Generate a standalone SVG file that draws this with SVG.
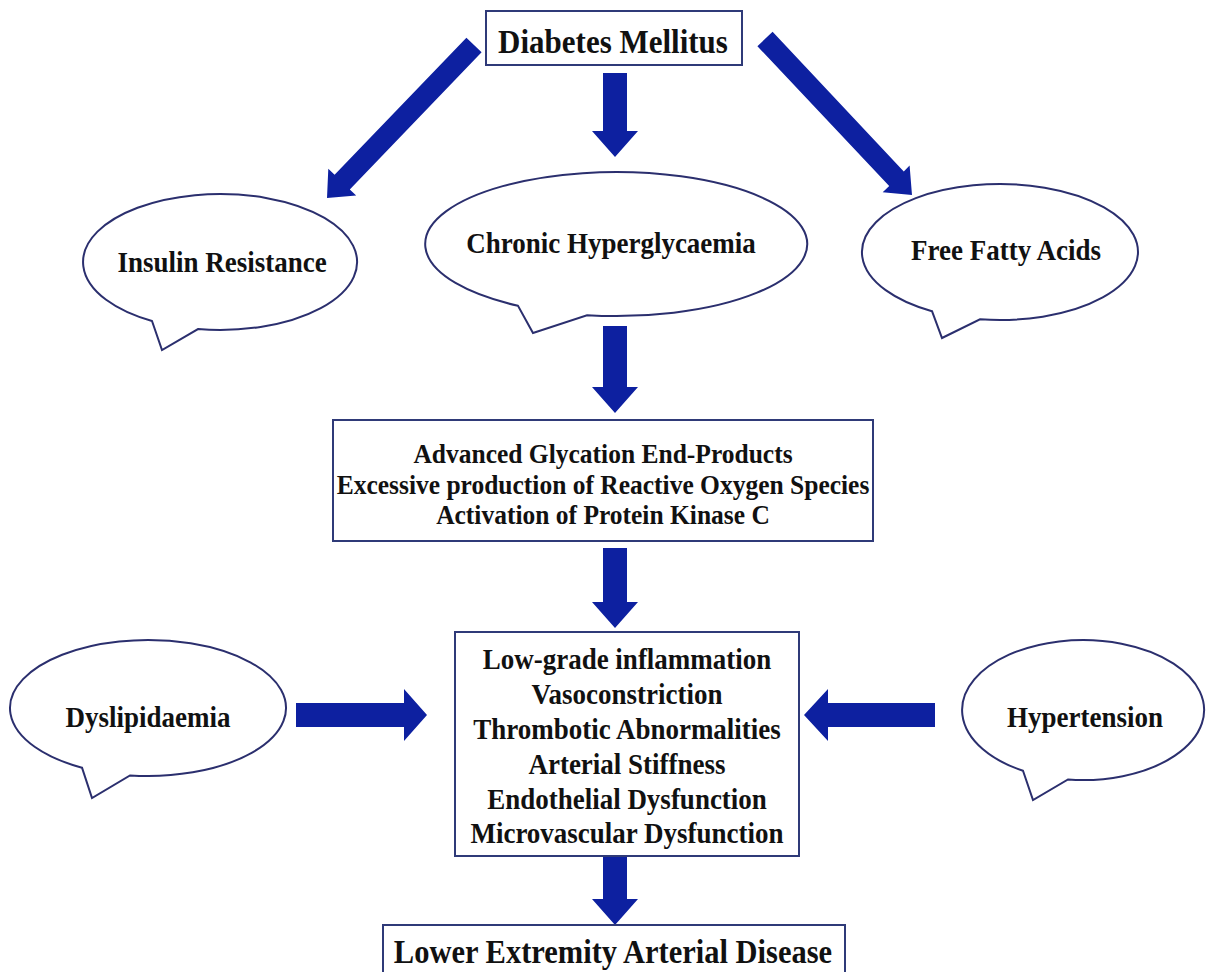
<svg xmlns="http://www.w3.org/2000/svg" width="1206" height="972" viewBox="0 0 1206 972">
  <style>
    .box { fill: #ffffff; stroke: #2f3a78; stroke-width: 2; }
    .bubble { fill: #ffffff; stroke: #2b2f6e; stroke-width: 2; stroke-linejoin: miter; }
    .arrow { fill: #0d20a0; stroke: none; }
    text { font-family: "Liberation Serif", "Times New Roman", serif; font-weight: bold; fill: #111111; text-anchor: middle; }
    .t-main { font-size: 31px; }
    .t-bub { font-size: 27px; }
    .t-age { font-size: 25.5px; }
    .t-box { font-size: 27px; }
    .t-end { font-size: 30.5px; }
  </style>
  <rect width="1206" height="972" fill="#ffffff"/>

  <!-- connectors: block arrows -->
  <g id="connectors">
    <!-- Diabetes Mellitus -> Insulin Resistance -->
    <polygon class="arrow" points="481.6,52.3 349.8,189.4 356.2,195.6 327,198 328.3,168.7 334.6,174.8 466.4,37.7"/>
    <!-- Diabetes Mellitus -> Free Fatty Acids -->
    <polygon class="arrow" points="757.4,46.2 889.2,186.1 882.7,192.3 912,195 909.6,165.6 903.8,171.6 772.6,31.8"/>
    <!-- Diabetes Mellitus -> Chronic Hyperglycaemia -->
    <polygon class="arrow" points="603,73 627,73 627,131 638,131 615,157 592,131 603,131"/>
    <!-- Chronic Hyperglycaemia -> mechanisms -->
    <polygon class="arrow" points="603,326 627,326 627,387 638,387 615,413 592,387 603,387"/>
    <!-- mechanisms -> vascular effects -->
    <polygon class="arrow" points="603,548 627,548 627,602 638,602 615,628 592,602 603,602"/>
    <!-- vascular effects -> LEAD -->
    <polygon class="arrow" points="603,856 627,856 627,899 638,899 615,925 592,899 603,899"/>
    <!-- Dyslipidaemia -> vascular effects -->
    <polygon class="arrow" points="296,703 404,703 404,689 427,715 404,741 404,727 296,727"/>
    <!-- Hypertension -> vascular effects -->
    <polygon class="arrow" points="935,703 828,703 828,689 804,715 828,741 828,727 935,727"/>
  </g>

  <g id="diabetes-mellitus">
    <rect class="box" x="486" y="11" width="256" height="54"/>
    <text class="t-main" transform="translate(613 53) scale(1 1.1)">Diabetes Mellitus</text>
  </g>

  <g id="insulin-resistance">
    <path class="bubble" d="M152,321 A137,68 0 1 1 198,329.1 L162,350 Z"/>
    <text class="t-bub" transform="translate(222 272) scale(1 1.1)">Insulin Resistance</text>
  </g>

  <g id="chronic-hyperglycaemia">
    <path class="bubble" d="M518,305.8 A191,72 0 1 1 587,315.2 L533,333 Z"/>
    <text class="t-bub" transform="translate(611 253) scale(1 1.1)">Chronic Hyperglycaemia</text>
  </g>

  <g id="free-fatty-acids">
    <path class="bubble" d="M932,311.2 A138,68 0 1 1 980,319.3 L942,338 Z"/>
    <text class="t-bub" transform="translate(1006 260) scale(1 1.1)">Free Fatty Acids</text>
  </g>

  <g id="mechanisms">
    <rect class="box" x="333" y="420" width="540" height="121"/>
    <text class="t-age" transform="translate(603 463) scale(1 1.1)">Advanced Glycation End-Products</text>
    <text class="t-age" transform="translate(603 494) scale(1 1.1)">Excessive production of Reactive Oxygen Species</text>
    <text class="t-age" transform="translate(603 524) scale(1 1.1)">Activation of Protein Kinase C</text>
  </g>

  <g id="dyslipidaemia">
    <path class="bubble" d="M82,767.7 A138,68 0 1 1 130,775.4 L92,798 Z"/>
    <text class="t-bub" transform="translate(148 727) scale(1 1.1)">Dyslipidaemia</text>
  </g>

  <g id="hypertension">
    <path class="bubble" d="M1023,770.8 A121,70 0 1 1 1068,779.5 L1033,800 Z"/>
    <text class="t-bub" transform="translate(1085 727) scale(1 1.1)">Hypertension</text>
  </g>

  <g id="vascular-effects">
    <rect class="box" x="455" y="632" width="344" height="224"/>
    <text class="t-box" transform="translate(627 669) scale(1 1.1)">Low-grade inflammation</text>
    <text class="t-box" transform="translate(627 704) scale(1 1.1)">Vasoconstriction</text>
    <text class="t-box" transform="translate(627 739) scale(1 1.1)">Thrombotic Abnormalities</text>
    <text class="t-box" transform="translate(627 774) scale(1 1.1)">Arterial Stiffness</text>
    <text class="t-box" transform="translate(627 809) scale(1 1.1)">Endothelial Dysfunction</text>
    <text class="t-box" transform="translate(627 843) scale(1 1.1)">Microvascular Dysfunction</text>
  </g>

  <g id="lower-extremity-arterial-disease">
    <rect class="box" x="383" y="925" width="462" height="60"/>
    <text class="t-end" transform="translate(613 963) scale(1 1.1)">Lower Extremity Arterial Disease</text>
  </g>
</svg>
